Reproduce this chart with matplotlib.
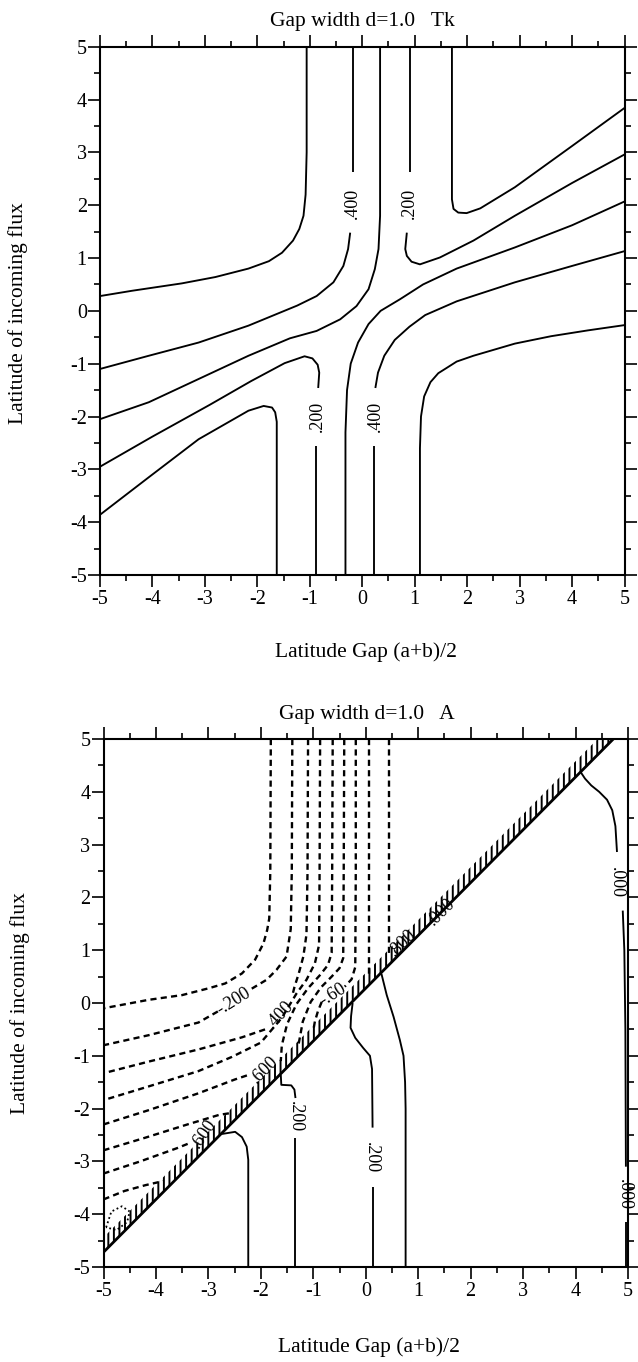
import matplotlib
matplotlib.use("Agg")
import matplotlib.pyplot as plt
from matplotlib.ticker import MultipleLocator

plt.rcParams['font.family'] = ['Liberation Serif', 'DejaVu Serif']
plt.rcParams['axes.unicode_minus'] = False
plt.rcParams['hatch.linewidth'] = 1.4

# ------------------------------------------------------------------ data
tick_vals = [-5, -4, -3, -2, -1, 0, 1, 2, 3, 4, 5]
tick_labels = ['-5', '-4', '-3', '-2', '-1', '0', '1', '2', '3', '4', '5']

# ---- panel 1 : Tk  (solid contour lines, lists of (x, y) points) ----
tk_c1 = [(-1.06, 5.0), (-1.06, 3.0), (-1.08, 2.2), (-1.12, 1.80), (-1.20, 1.55), (-1.32, 1.33),
         (-1.53, 1.10), (-1.78, 0.94), (-2.17, 0.80), (-2.80, 0.64), (-3.44, 0.52), (-4.39, 0.38), (-5.0, 0.28)]
tk_c2a = [(-0.17, 5.0), (-0.17, 2.62)]
tk_c2b = [(-0.23, 1.48), (-0.27, 1.17), (-0.36, 0.85), (-0.55, 0.54), (-0.87, 0.28), (-1.24, 0.10),
          (-2.17, -0.28), (-3.12, -0.60), (-4.07, -0.85), (-5.0, -1.10)]
tk_c3 = [(0.34, 5.0), (0.34, 1.80), (0.31, 1.17), (0.24, 0.79), (0.12, 0.41), (-0.11, 0.09), (-0.42, -0.16),
         (-0.87, -0.38), (-1.38, -0.52), (-2.17, -0.85), (-3.12, -1.29), (-4.07, -1.73), (-5.0, -2.05)]
tk_c4a = [(0.91, 5.0), (0.91, 2.62)]
tk_c4b = [(0.85, 1.48), (0.82, 1.17), (0.85, 1.04), (0.94, 0.93), (1.10, 0.88), (1.48, 1.01), (2.12, 1.33),
          (2.91, 1.80), (4.0, 2.42), (5.0, 2.96)]
tk_c5 = [(1.71, 5.0), (1.71, 2.11), (1.74, 1.93), (1.83, 1.86), (1.99, 1.85), (2.25, 1.94), (2.91, 2.34),
         (4.0, 3.12), (5.0, 3.84)]
tk_c6 = [(-0.32, -5.0), (-0.32, -2.3), (-0.29, -1.5), (-0.22, -1.0), (-0.08, -0.6), (0.12, -0.25), (0.35, 0.0),
         (0.72, 0.22), (1.16, 0.50), (1.80, 0.80), (2.91, 1.20), (4.0, 1.62), (5.0, 2.07)]
tk_c7a = [(0.22, -5.0), (0.22, -2.56)]
tk_c7b = [(0.25, -1.46), (0.30, -1.17), (0.42, -0.85), (0.62, -0.55), (0.90, -0.30), (1.20, -0.08),
          (1.80, 0.18), (2.91, 0.54), (4.0, 0.85), (5.0, 1.13)]
tk_c8 = [(1.10, -5.0), (1.10, -2.6), (1.12, -2.0), (1.18, -1.62), (1.30, -1.35), (1.45, -1.18), (1.61, -1.08),
         (1.80, -0.96), (2.12, -0.85), (2.91, -0.62), (3.6, -0.48), (4.3, -0.37), (5.0, -0.27)]
tk_c9a = [(-0.88, -5.0), (-0.88, -2.56)]
tk_c9b = [(-0.84, -1.46), (-0.82, -1.17), (-0.85, -1.02), (-0.95, -0.90), (-1.10, -0.86), (-1.48, -0.99),
          (-2.12, -1.33), (-2.91, -1.78), (-4.0, -2.38), (-5.0, -2.95)]
tk_c10 = [(-1.63, -5.0), (-1.63, -2.1), (-1.66, -1.92), (-1.72, -1.83), (-1.88, -1.80), (-2.17, -1.89),
          (-3.12, -2.43), (-4.07, -3.15), (-5.0, -3.86)]
tk_labels = ['.400', '.200', '.200', '.400']
tk_label_pos = [(-0.19, 2.04), (0.89, 2.04), (-0.86, -2.0), (0.25, -2.0)]

# ---- panel 2 : A ----
# dashed (negative) contours
a_n1 = [(-1.81, 5.0), (-1.82, 2.5), (-1.84, 1.6), (-1.88, 1.38), (-1.95, 1.13), (-2.11, 0.82), (-2.36, 0.56),
        (-2.68, 0.37), (-2.99, 0.28), (-3.50, 0.15), (-4.14, 0.06), (-5.0, -0.10)]
a_n2a = [(-1.40, 5.0), (-1.41, 2.5), (-1.43, 1.4), (-1.51, 0.88), (-1.70, 0.63), (-1.89, 0.44), (-2.21, 0.25)]
a_n2b = [(-2.82, -0.16), (-3.19, -0.37), (-4.14, -0.61), (-5.0, -0.80)]
a_n3a = [(-1.10, 5.0), (-1.11, 2.5), (-1.13, 1.3), (-1.19, 0.88), (-1.28, 0.55), (-1.36, 0.30), (-1.40, 0.14)]
a_n3b = [(-1.92, -0.50), (-2.36, -0.65), (-3.19, -0.88), (-4.14, -1.11), (-5.0, -1.33)]
a_n4 = [(-0.87, 5.0), (-0.88, 2.5), (-0.89, 1.1), (-0.97, 0.75), (-1.13, 0.44), (-1.32, 0.18), (-1.60, -0.28),
        (-2.0, -0.75), (-2.55, -1.02), (-3.19, -1.29), (-4.14, -1.58), (-5.0, -1.84)]
a_n5 = [(-0.63, 5.0), (-0.64, 2.5), (-0.65, 0.95), (-0.72, 0.72), (-0.88, 0.52), (-1.10, 0.28), (-1.32, -0.02),
        (-1.50, -0.40), (-1.60, -0.80), (-1.62, -1.10)]
a_n6 = [(-0.41, 5.0), (-0.42, 2.5), (-0.43, 0.85), (-0.50, 0.66), (-0.65, 0.50), (-0.85, 0.30), (-1.05, 0.02),
        (-1.20, -0.35), (-1.28, -0.78)]
a_n7a = [(-0.19, 5.0), (-0.19, 2.5), (-0.20, 0.68), (-0.27, 0.45), (-0.40, 0.31)]
a_n7b = [(-0.84, 0.02), (-0.91, -0.15), (-0.97, -0.35), (-1.0, -0.52)]
a_n8 = [(0.07, 5.0), (0.07, 2.5), (0.07, 0.52)]
a_n9 = [(0.45, 5.0), (0.45, 2.5), (0.45, 0.95)]
a_l5 = [(-5.0, -2.30), (-4.14, -2.03), (-3.19, -1.71), (-2.50, -1.45), (-2.23, -1.36)]
a_l6 = [(-5.0, -2.79), (-4.2, -2.55), (-3.4, -2.30), (-2.8, -2.12), (-2.55, -2.08)]
a_l7 = [(-5.0, -3.23), (-4.3, -3.0), (-3.6, -2.75), (-3.35, -2.65)]
a_l8 = [(-5.0, -3.72), (-4.6, -3.56), (-4.2, -3.45), (-3.85, -3.37)]
a_loop = [(-4.95, -4.25), (-4.85, -3.95), (-4.65, -3.85), (-4.5, -3.95), (-4.55, -4.15), (-4.75, -4.3), (-4.95, -4.25)]
# solid (positive) contours
a_s1 = [(-2.74, -2.48), (-2.49, -2.44), (-2.36, -2.54), (-2.27, -2.72), (-2.24, -2.97), (-2.24, -5.0)]
a_s2a = [(-1.62, -1.36), (-1.61, -1.55), (-1.42, -1.56), (-1.36, -1.64), (-1.34, -1.80)]
a_s2b = [(-1.34, -2.55), (-1.34, -5.0)]
a_s3a = [(-0.25, 0.0), (-0.28, -0.25), (-0.29, -0.47), (-0.20, -0.66), (-0.05, -0.85), (0.08, -1.00),
         (0.12, -1.25), (0.13, -2.36)]
a_s3b = [(0.13, -3.49), (0.13, -5.0)]
a_s4 = [(0.30, 0.55), (0.40, 0.15), (0.53, -0.26), (0.65, -0.70), (0.72, -1.0), (0.75, -1.5), (0.76, -2.0),
        (0.76, -5.0)]
a_s5a = [(4.10, 4.37), (4.18, 4.25), (4.30, 4.12), (4.45, 4.00), (4.60, 3.85), (4.70, 3.65), (4.76, 3.35),
         (4.79, 2.86)]
a_s5b = [(4.90, 1.75), (4.93, 1.0), (4.95, -0.5), (4.96, -3.1)]
a_s5c = [(4.96, -4.15), (4.96, -5.0)]
# crowded discontinuity band along the diagonal
band_x = [-5.0, 4.42, 4.72]
band_lo = [-4.72, 4.70, 5.0]
band_hi = [-4.44, 5.0, 5.0]
# contour labels
a_labels = ['-.200', '.400', '-.60', '.600', '.600', '.800', '.000', '.200', '.200', '.000', '.000']
a_label_pos = [(-2.52, 0.03), (-1.63, -0.21), (-0.62, 0.16), (-1.92, -1.27), (-3.08, -2.48), (0.70, 1.13),
               (1.45, 1.72), (-1.34, -2.15), (0.10, -2.93), (4.78, 2.28), (4.93, -3.62)]
a_label_rot = [32, 47, 32, 45, 55, 45, 45, 270, 270, 270, 270]

# ------------------------------------------------------------------ figure
W, H = 638, 1362
fig = plt.figure(figsize=(W / 100, H / 100), dpi=100)

ax1 = fig.add_axes([100 / W, 1 - 575 / H, 524.5 / W, 528.3 / H])
ax2 = fig.add_axes([103.5 / W, 1 - 1267 / H, 524.5 / W, 528.0 / H])

LW = 1.35


def line(ax, pts, lw=LW, **kw):
    xs = [p[0] for p in pts]
    ys = [p[1] for p in pts]
    ax.plot(xs, ys, color='black', lw=lw, solid_capstyle='butt', **kw)


for c in [tk_c1, tk_c2a, tk_c2b, tk_c3, tk_c4a, tk_c4b, tk_c5, tk_c6, tk_c7a, tk_c7b, tk_c8,
          tk_c9a, tk_c9b, tk_c10]:
    line(ax1, c)
for t, (x, y) in zip(tk_labels, tk_label_pos):
    ax1.text(x, y, t, rotation=90, ha='center', va='center', fontsize=13)

dash = (0, (2.6, 1.8))
for c in [a_n1, a_n2a, a_n2b, a_n3a, a_n3b, a_n4, a_n5, a_n6, a_n7a, a_n7b, a_n8, a_n9,
          a_l5, a_l6, a_l7, a_l8]:
    line(ax2, c, lw=1.7, linestyle=dash)
line(ax2, a_loop, lw=1.3, linestyle=(0, (1, 1.5)))
for c in [a_s1, a_s2a, a_s2b, a_s3a, a_s3b, a_s4, a_s5a, a_s5b, a_s5c]:
    line(ax2, c)
ax2.fill_between(band_x, band_lo, band_hi, facecolor='none', edgecolor='black', hatch='|||', linewidth=0)
ax2.plot(band_x, band_lo, color='black', lw=2.0)
for t, (x, y), r in zip(a_labels, a_label_pos, a_label_rot):
    ax2.text(x, y, t, rotation=r, ha='center', va='center', fontsize=13)

for ax in (ax1, ax2):
    ax.set_xlim(-5, 5)
    ax.set_ylim(-5, 5)
    ax.set_xticks(tick_vals)
    ax.set_xticklabels(tick_labels)
    ax.set_yticks(tick_vals)
    ax.set_yticklabels(tick_labels)
    ax.xaxis.set_minor_locator(MultipleLocator(0.5))
    ax.yaxis.set_minor_locator(MultipleLocator(0.5))
    ax.tick_params(which='both', direction='out', top=True, right=True, labeltop=False, labelright=False,
                   width=1.2, colors='black')
    ax.tick_params(which='major', length=8.5, labelsize=14.5)
    ax.tick_params(axis='x', which='major', pad=2.5)
    ax.tick_params(axis='y', which='major', pad=1.0)
    ax.tick_params(which='minor', length=4.5)
    for s in ax.spines.values():
        s.set_linewidth(1.5)

fs = 15.5
fig.text(362 / W, 1 - 26 / H, 'Gap width d=1.0   Tk', ha='center', va='baseline', fontsize=fs)
fig.text(366 / W, 1 - 657 / H, 'Latitude Gap (a+b)/2', ha='center', va='baseline', fontsize=fs)
fig.text(18 / W, 1 - 313 / H, 'Latitude of incoming flux', ha='center', va='center', rotation=90, fontsize=fs)
fig.text(367 / W, 1 - 719 / H, 'Gap width d=1.0   A', ha='center', va='baseline', fontsize=fs)
fig.text(369 / W, 1 - 1352 / H, 'Latitude Gap (a+b)/2', ha='center', va='baseline', fontsize=fs)
fig.text(20 / W, 1 - 1003 / H, 'Latitude of incoming flux', ha='center', va='center', rotation=90, fontsize=fs)

fig.savefig('out.png', dpi=100)
